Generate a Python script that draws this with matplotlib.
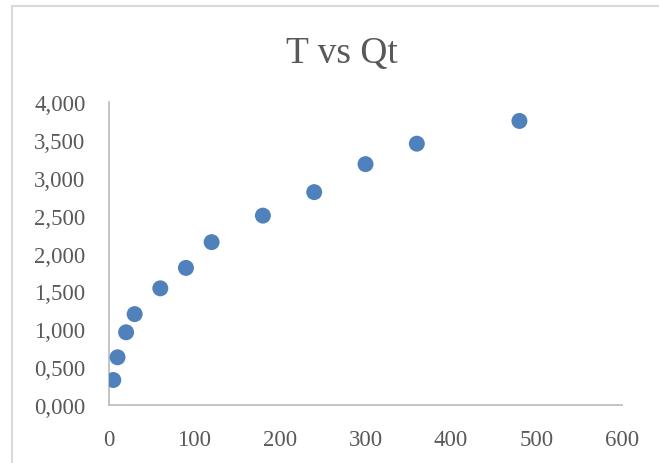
import matplotlib.pyplot as plt
from matplotlib.patches import Rectangle
from matplotlib.ticker import FuncFormatter

# data (y uses decimal comma in the labels)
t_values = [5, 10, 20, 30, 60, 90, 120, 180, 240, 300, 360, 480]
qt_values = [0.33, 0.63, 0.96, 1.20, 1.54, 1.81, 2.15, 2.50, 2.81, 3.18, 3.45, 3.75]

x_ticks = [0, 100, 200, 300, 400, 500, 600]
y_ticks = [0, 0.5, 1, 1.5, 2, 2.5, 3, 3.5, 4]

TEXT = "#595959"
AXIS = "#bfbfbf"
DOT = "#4f81bd"

plt.rcParams["font.family"] = ["Liberation Serif", "DejaVu Serif"]

fig = plt.figure(figsize=(6.59, 4.64), dpi=100)
ax = fig.add_axes([0.1654, 0.125, 0.7785, 0.653])

ax.scatter(t_values, qt_values, s=11.5 ** 2, color=DOT, edgecolors="none", zorder=3)

ax.set_xlim(0, 600)
ax.set_ylim(0, 4)
ax.set_xticks(x_ticks)
ax.set_yticks(y_ticks)
ax.yaxis.set_major_formatter(FuncFormatter(lambda v, _: f"{v:.3f}".replace(".", ",")))
ax.tick_params(length=0, labelsize=16.5, colors=TEXT)
ax.tick_params(axis="y", pad=17)
ax.tick_params(axis="x", pad=17)

for side in ("top", "right"):
    ax.spines[side].set_visible(False)
for side in ("left", "bottom"):
    ax.spines[side].set_color(AXIS)
    ax.spines[side].set_linewidth(1.3)

fig.text(0.519, 1 - 63 / 464, "T vs Qt", ha="center", va="baseline", fontsize=27, color=TEXT)

# chart frame, cut off at right and bottom like the screenshot
fig.patches.append(Rectangle((11.5 / 659, -0.1), 1.2, 1 - 6.5 / 464 + 0.1,
                             transform=fig.transFigure, fill=False,
                             edgecolor="#d9d9d9", linewidth=1.5))

fig.savefig("out.png", dpi=100)
